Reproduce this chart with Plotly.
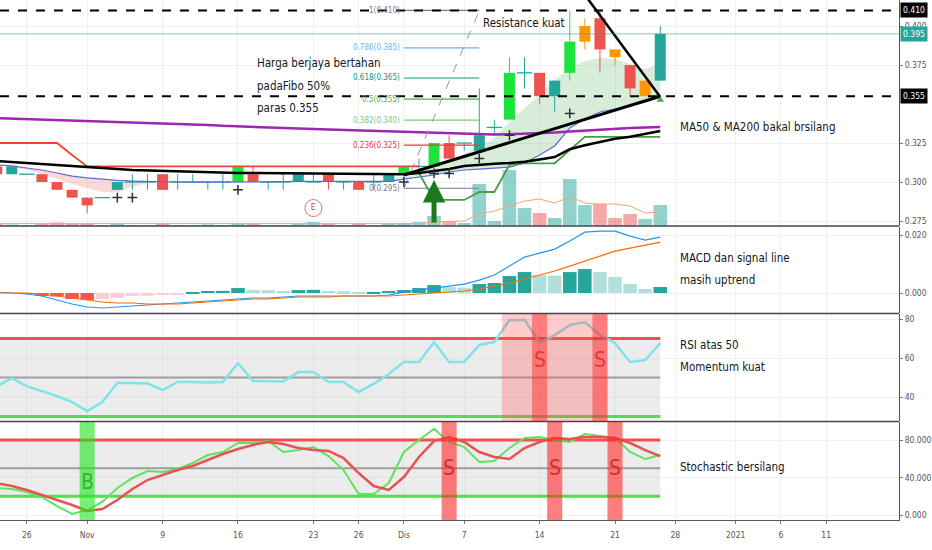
import plotly.graph_objects as go

# ---------------- data ----------------
dates = [
    "2020-10-22", "2020-10-23", "2020-10-26", "2020-10-27", "2020-10-28", "2020-10-30",
    "2020-11-02", "2020-11-03", "2020-11-04", "2020-11-05", "2020-11-06",
    "2020-11-09", "2020-11-10", "2020-11-11", "2020-11-12", "2020-11-13",
    "2020-11-16", "2020-11-17", "2020-11-18", "2020-11-19", "2020-11-20",
    "2020-11-23", "2020-11-24", "2020-11-25", "2020-11-26", "2020-11-27",
    "2020-11-30", "2020-12-01", "2020-12-02", "2020-12-03", "2020-12-04",
    "2020-12-07", "2020-12-08", "2020-12-09", "2020-12-10", "2020-12-11",
    "2020-12-14", "2020-12-15", "2020-12-16", "2020-12-17", "2020-12-18",
    "2020-12-21", "2020-12-22", "2020-12-23", "2020-12-24",
    # future (empty) days on the right
    "2020-12-28", "2020-12-29", "2020-12-30", "2020-12-31", "2021-01-01",
    "2021-01-04", "2021-01-05", "2021-01-06", "2021-01-07", "2021-01-08",
    "2021-01-11", "2021-01-12", "2021-01-13", "2021-01-14", "2021-01-15",
    "2021-01-18", "2021-01-19",
]
bar_days = dates[:45]

tick_days = ["2020-10-26", "2020-11-02", "2020-11-09", "2020-11-16", "2020-11-23", "2020-11-26",
             "2020-12-01", "2020-12-07", "2020-12-14", "2020-12-21", "2020-12-28", "2021-01-01",
             "2021-01-06", "2021-01-11"]
tick_text = ["26", "Nov", "9", "16", "23", "26", "Dis", "7", "14", "21", "28", "2021", "6", "11"]
price_ticks = [0.275, 0.300, 0.325, 0.375, 0.400]

opens = [0.310, 0.305, 0.305, 0.305, 0.300, 0.295, 0.290, 0.290, 0.295, 0.300, 0.300,
         0.305, 0.300, 0.300, 0.300, 0.300, 0.300, 0.305, 0.300, 0.300, 0.300, 0.300,
         0.305, 0.300, 0.300, 0.300, 0.300, 0.305, 0.310, 0.310, 0.325, 0.325, 0.320,
         0.335, 0.340, 0.370, 0.370, 0.355, 0.370, 0.390, 0.405, 0.385, 0.375, 0.355, 0.365]
highs = [0.310, 0.310, 0.305, 0.305, 0.300, 0.295, 0.290, 0.290, 0.300, 0.305, 0.305,
         0.305, 0.305, 0.305, 0.300, 0.305, 0.310, 0.310, 0.300, 0.305, 0.305, 0.305,
         0.305, 0.300, 0.300, 0.305, 0.305, 0.310, 0.315, 0.325, 0.330, 0.325, 0.360,
         0.340, 0.380, 0.380, 0.370, 0.365, 0.410, 0.405, 0.410, 0.385, 0.375, 0.365, 0.400]
lows = [0.305, 0.305, 0.305, 0.300, 0.295, 0.290, 0.280, 0.290, 0.295, 0.295, 0.295,
        0.295, 0.295, 0.300, 0.295, 0.295, 0.300, 0.300, 0.295, 0.295, 0.300, 0.300,
        0.295, 0.295, 0.295, 0.295, 0.300, 0.305, 0.305, 0.310, 0.315, 0.320, 0.320,
        0.330, 0.340, 0.360, 0.350, 0.345, 0.365, 0.385, 0.370, 0.375, 0.355, 0.355, 0.365]
closes = [0.305, 0.310, 0.305, 0.300, 0.295, 0.290, 0.285, 0.290, 0.300, 0.300, 0.300,
          0.295, 0.300, 0.300, 0.300, 0.300, 0.310, 0.300, 0.300, 0.300, 0.305, 0.300,
          0.300, 0.300, 0.295, 0.300, 0.305, 0.310, 0.310, 0.325, 0.315, 0.325, 0.330,
          0.335, 0.370, 0.370, 0.355, 0.365, 0.390, 0.400, 0.385, 0.380, 0.360, 0.365, 0.395]

# bars painted by the trend indicator
strong_days = ["2020-11-16", "2020-12-01", "2020-12-03", "2020-12-10", "2020-12-16"]
pause_days = ["2020-12-17", "2020-12-21", "2020-12-23"]

volume = [0.2, 0.15, 0.1, 0.2, 0.35, 0.2, 0.3, 0.1, 0.2, 0.1, 0.1,
          0.25, 0.1, 0.1, 0.15, 0.1, 0.3, 0.2, 0.1, 0.1, 0.2, 0.4,
          0.2, 0.1, 0.25, 0.1, 0.3, 0.3, 0.4, 1.0, 0.5, 0.3, 4.2,
          0.5, 5.6, 1.8, 1.3, 0.8, 4.7, 2.1, 2.2, 0.8, 1.2, 0.7, 2.1]
volume_ma = [0.25, 0.25, 0.24, 0.24, 0.25, 0.25, 0.26, 0.25, 0.24, 0.23, 0.22,
             0.22, 0.21, 0.2, 0.2, 0.2, 0.21, 0.21, 0.2, 0.2, 0.2, 0.22,
             0.22, 0.21, 0.21, 0.2, 0.21, 0.22, 0.24, 0.4, 0.45, 0.5, 1.2,
             1.5, 2.0, 2.5, 2.7, 2.3, 2.9, 2.3, 2.2, 2.2, 2.0, 1.3, 1.4]

ma50 = [0.3135, 0.3128, 0.3122, 0.3115, 0.3109, 0.3103, 0.3096, 0.3090, 0.3083, 0.3077, 0.3074,
        0.3071, 0.3067, 0.3064, 0.3064, 0.3061, 0.3058, 0.3058, 0.3057, 0.3057, 0.3056, 0.3055,
        0.3054, 0.3053, 0.3052, 0.3051, 0.3051, 0.3050, 0.3058, 0.3070, 0.3083, 0.3103, 0.3112,
        0.3117, 0.3122, 0.3130, 0.3145, 0.3160, 0.3210, 0.3236, 0.3256, 0.3278, 0.3290, 0.3310, 0.3327]
ma200 = [0.3410, 0.3407, 0.3404, 0.3401, 0.3398, 0.3395, 0.3391, 0.3388, 0.3385, 0.3382, 0.3378,
         0.3376, 0.3372, 0.3369, 0.3366, 0.3360, 0.3356, 0.3353, 0.3350, 0.3346, 0.3343, 0.3340,
         0.3337, 0.3334, 0.3330, 0.3327, 0.3324, 0.3321, 0.3318, 0.3314, 0.3311, 0.3308, 0.3305,
         0.3305, 0.3307, 0.3310, 0.3314, 0.3318, 0.3324, 0.3330, 0.3338, 0.3343, 0.3347, 0.3350, 0.3353]
ema_slow = [0.3109, 0.3103, 0.3090, 0.3077, 0.3058, 0.3038, 0.3026, 0.3016, 0.3010, 0.3006, 0.3003,
            0.3000, 0.3000, 0.2999, 0.2999, 0.3000, 0.3003, 0.3003, 0.3002, 0.3002, 0.3004, 0.3004,
            0.3004, 0.3003, 0.3001, 0.3001, 0.3004, 0.3019, 0.3032, 0.3045, 0.3064, 0.3077, 0.3083,
            0.3090, 0.3096, 0.3122, 0.3173, 0.3231, 0.3346, 0.3404, 0.3449, 0.3468, 0.3487, 0.3513, 0.3545]
ema_fast = [0.3109, 0.3096, 0.3077, 0.3051, 0.3019, 0.2987, 0.2962, 0.2936, 0.2936, 0.2968, 0.2994,
            0.2994, 0.2998, 0.2999, 0.2999, 0.3001, 0.3006, 0.3004, 0.3002, 0.3002, 0.3005, 0.3004,
            0.3004, 0.3002, 0.3000, 0.3001, 0.3013, 0.3038, 0.3071, 0.3103, 0.3135, 0.3179, 0.3224,
            0.3282, 0.3385, 0.3474, 0.3558, 0.3654, 0.3731, 0.3776, 0.3795, 0.3788, 0.3756, 0.3724, 0.3756]

trail_down = [0.325, 0.325, 0.325, 0.325, 0.325, 0.3173, 0.310, 0.310, 0.310, 0.310, 0.310,
              0.310, 0.310, 0.310, 0.310, 0.310, 0.310, 0.310, 0.310, 0.310, 0.310, 0.310,
              0.310, 0.310, 0.310, 0.310, 0.310, 0.310, 0.310] + [None] * 16
trail_up = [None] * 28 + [0.3058, 0.2885, 0.2885, 0.2885, 0.2936, 0.2936, 0.311, 0.312, 0.312,
                          0.312, 0.3205, 0.329, 0.329, 0.329, 0.329, 0.329, 0.329]

plus_days = ["2020-11-04", "2020-11-05", "2020-11-16", "2020-12-01", "2020-12-03", "2020-12-04",
             "2020-12-08", "2020-12-10", "2020-12-16"]
plus_prices = [0.290, 0.290, 0.295, 0.300, 0.3055, 0.3055, 0.315, 0.330, 0.344]

fib_days = ["2020-12-01", "2020-12-08"]
fib_levels = ["0", "0.236", "0.382", "0.5", "0.618", "0.786", "1"]
fib_prices = [0.296, 0.3237, 0.3397, 0.3532, 0.3667, 0.386, 0.410]
fib_text = ["0.295", "0.325", "0.340", "0.355", "0.365", "0.385", "0.410"]

support_days = ["2020-12-01", "2020-12-24"]
support_prices = [0.3045, 0.3550]
resist_days = ["2020-12-17", "2020-12-24"]
resist_prices = [0.420, 0.3545]
key_levels = [0.410, 0.355]
last_price = 0.395

buy_arrow_day, buy_arrow_price = "2020-12-03", 0.3013
earnings_day, earnings_price = "2020-11-23", 0.2833
tri_day, tri_price = "2020-12-24", 0.3526

macd = [0.00034, 0.0, -0.00034, -0.00103, -0.00241, -0.00379, -0.00483, -0.00517, -0.00483, -0.00448,
        -0.00414, -0.00379, -0.00345, -0.00310, -0.00276, -0.00241, -0.00207, -0.00172, -0.00172,
        -0.00138, -0.00103, -0.00103, -0.00103, -0.00103, -0.00103, -0.00103, -0.00069, 0.00034,
        0.00103, 0.00172, 0.00241, 0.00310, 0.00448, 0.00621, 0.00931, 0.01241, 0.01379, 0.01517,
        0.01793, 0.02103, 0.02138, 0.02138, 0.01966, 0.01828, 0.01931]
signal = [0.0, 0.0, 0.0, -0.00034, -0.00103, -0.00172, -0.00241, -0.00310, -0.00345, -0.00345,
          -0.00379, -0.00379, -0.00379, -0.00345, -0.00310, -0.00276, -0.00241, -0.00207, -0.00207,
          -0.00172, -0.00138, -0.00138, -0.00138, -0.00103, -0.00103, -0.00103, -0.00103, -0.00069,
          -0.00034, 0.0, 0.00034, 0.00069, 0.00138, 0.00241, 0.00345, 0.00483, 0.00621, 0.00759,
          0.00931, 0.01103, 0.01276, 0.01448, 0.01552, 0.01655, 0.01759]
hist = [0.0, 0.0, -0.00034, -0.00103, -0.0012, -0.00207, -0.00241, -0.00207, -0.00172, -0.00103,
        -0.00095, -0.00069, -0.00052, 0.00034, 0.00069, 0.00075, 0.00172, 0.00103, 0.00095, 0.00069,
        0.00103, 0.0011, 0.00069, 0.0006, 0.00017, 0.00034, 0.00069, 0.00103, 0.00172, 0.00276,
        0.00207, 0.0019, 0.0031, 0.00345, 0.00586, 0.00724, 0.00621, 0.006, 0.00724, 0.00828,
        0.00724, 0.00552, 0.0031, 0.00138, 0.00207]

rsi = [45.5, 49.7, 45.6, 43.1, 40.5, 37.4, 32.8, 37.4, 47.2, 47.2, 47.0,
       43.6, 47.7, 47.7, 47.5, 47.7, 57.4, 48.2, 48.2, 48.0, 52.8, 52.8,
       47.7, 47.7, 42.6, 46.7, 51.8, 58.0, 58.0, 68.2, 58.0, 58.0, 66.7,
       68.2, 79.5, 79.5, 68.2, 71.8, 76.9, 78.5, 71.8, 67.7, 58.0, 59.0, 67.7]
rsi_levels = [70, 50, 30]
rsi_hot_days = ["2020-12-10", "2020-12-11", "2020-12-14", "2020-12-15", "2020-12-16",
                "2020-12-17", "2020-12-18"]
rsi_sell_days = ["2020-12-14", "2020-12-18"]

stoch_k = [28.8, 27.7, 24.5, 19.2, 9.6, 1.1, 5.3, 13.9, 28.8, 39.5, 46.9,
           45.9, 49.1, 55.5, 64.0, 67.2, 76.8, 76.8, 78.9, 67.2, 69.3, 72.5,
           62.9, 48.0, 22.4, 22.4, 34.1, 67.2, 80.0, 91.7, 77.9, 72.5, 56.5,
           57.6, 71.5, 82.1, 83.2, 80.0, 77.9, 86.4, 84.3, 82.1, 67.2, 59.7, 64.0]
stoch_d = [34.1, 30.9, 26.7, 21.3, 16.0, 10.7, 4.3, 6.4, 16.0, 27.7, 37.3,
           42.7, 48.0, 52.3, 58.7, 65.1, 70.4, 74.7, 77.9, 75.7, 71.5, 69.3,
           68.3, 60.8, 44.8, 30.9, 26.7, 40.5, 61.9, 78.9, 83.2, 77.9, 67.2,
           61.9, 59.7, 71.5, 77.9, 82.1, 81.1, 83.2, 83.2, 82.1, 76.8, 69.3, 62.9]
stoch_levels = [80, 50, 20]
stoch_buy_days = ["2020-11-02"]
stoch_sell_days = ["2020-12-04", "2020-12-15", "2020-12-21"]

# ---------------- styling ----------------
TEAL = "#26a69a"
RED = "#ef5350"
LIME = "#1ee33c"
ORANGE = "#ff9800"
FONT = "DejaVu Sans Condensed, Roboto, sans-serif"
FIB_COLOURS = ["#787b86", "#f23645", "#81c784", "#4caf50", "#089981", "#64b5f6", "#787b86"]

pos = {d: k for k, d in enumerate(dates)}
xb = [pos[d] for d in bar_days]
n = len(bar_days)

fig = go.Figure()

# volume (behind everything)
vol_cols = ["rgba(38,166,154,0.5)" if c >= o else "rgba(239,83,80,0.5)" for o, c in zip(opens, closes)]
fig.add_trace(go.Bar(x=xb, y=volume, marker=dict(color=vol_cols, line_width=0), width=0.9,
                     xaxis="x", yaxis="y"))
fig.add_trace(go.Scatter(x=xb, y=volume_ma, mode="lines", line=dict(color="#f9a27a", width=1),
                         xaxis="x", yaxis="y"))

# EMA cloud
for lo, hi, col in [(0, 13, "rgba(239,83,80,0.22)"), (26, 45, "rgba(76,175,80,0.22)")]:
    fig.add_trace(go.Scatter(x=xb[lo:hi], y=ema_slow[lo:hi], mode="lines", line=dict(width=0),
                             xaxis="x", yaxis="y2"))
    fig.add_trace(go.Scatter(x=xb[lo:hi], y=ema_fast[lo:hi], mode="lines", line=dict(width=0),
                             fill="tonexty", fillcolor=col, xaxis="x", yaxis="y2"))

# candles: wick lines, thick body segments, doji ticks
groups = {"strong": [], "pause": [], "up": [], "down": []}
for k, d in enumerate(bar_days):
    if d in strong_days:
        groups["strong"].append(k)
    elif d in pause_days:
        groups["pause"].append(k)
    elif closes[k] >= opens[k]:
        groups["up"].append(k)
    else:
        groups["down"].append(k)
group_col = {"strong": LIME, "pause": ORANGE, "up": TEAL, "down": RED}
for g, idx in groups.items():
    c = group_col[g]
    wx, wy, bx, by, dx, dy = [], [], [], [], [], []
    for k in idx:
        wx += [xb[k], xb[k], None]
        wy += [lows[k], highs[k], None]
        if opens[k] == closes[k]:
            dx.append(xb[k])
            dy.append(opens[k])
        else:
            bx += [xb[k], xb[k], None]
            by += [opens[k], closes[k], None]
    fig.add_trace(go.Scatter(x=wx, y=wy, mode="lines", line=dict(color=c, width=1),
                             xaxis="x", yaxis="y2"))
    if bx:
        fig.add_trace(go.Scatter(x=bx, y=by, mode="lines", line=dict(color=c, width=11),
                                 xaxis="x", yaxis="y2"))
    if dx:
        fig.add_trace(go.Scatter(x=dx, y=dy, mode="markers",
                                 marker=dict(symbol="line-ew", size=11, line=dict(color=c, width=1.3)),
                                 xaxis="x", yaxis="y2"))

# moving averages and trailing stop
fig.add_trace(go.Scatter(x=xb, y=ema_slow, mode="lines", line=dict(color="#5c6bd6", width=1.2),
                         xaxis="x", yaxis="y2"))
fig.add_trace(go.Scatter(x=xb, y=ma200, mode="lines", line=dict(color="#9c27b0", width=2.5),
                         xaxis="x", yaxis="y2"))
fig.add_trace(go.Scatter(x=xb, y=trail_down, mode="lines", line=dict(color="#f44336", width=1.8),
                         xaxis="x", yaxis="y2"))
fig.add_trace(go.Scatter(x=xb, y=trail_up, mode="lines", line=dict(color="#43a047", width=1.8),
                         xaxis="x", yaxis="y2"))
fig.add_trace(go.Scatter(x=xb, y=ma50, mode="lines", line=dict(color="#000000", width=2.5),
                         xaxis="x", yaxis="y2"))

# fibonacci retracement
fx = [pos[d] for d in fib_days]
for lvl, p, col in zip(fib_levels, fib_prices, FIB_COLOURS):
    fig.add_trace(go.Scatter(x=fx, y=[p, p], mode="lines", line=dict(color=col, width=1.2),
                             xaxis="x", yaxis="y2"))
fig.add_trace(go.Scatter(x=fx, y=[fib_prices[0], fib_prices[-1]], mode="lines",
                         line=dict(color="#9598a1", width=1, dash="dash"), xaxis="x", yaxis="y2"))

# trend lines
fig.add_trace(go.Scatter(x=[pos[d] for d in support_days], y=support_prices, mode="lines",
                         line=dict(color="#000000", width=3), xaxis="x", yaxis="y2"))
fig.add_trace(go.Scatter(x=[pos[d] for d in resist_days], y=resist_prices, mode="lines",
                         line=dict(color="#000000", width=2.5), xaxis="x", yaxis="y2"))

# markers
fig.add_trace(go.Scatter(x=[pos[d] for d in plus_days], y=plus_prices, mode="markers",
                         marker=dict(symbol="cross-thin", size=7, line=dict(color="#2a2e39", width=1.5)),
                         xaxis="x", yaxis="y2"))
fig.add_trace(go.Scatter(x=[pos[earnings_day]], y=[earnings_price], mode="markers+text", text=["E"],
                         textposition="middle center",
                         textfont=dict(color="#e53935", size=9, family=FONT),
                         marker=dict(symbol="circle", size=17, color="white",
                                     line=dict(color="#e57373", width=1)),
                         xaxis="x", yaxis="y2"))
fig.add_trace(go.Scatter(x=[pos[tri_day]], y=[tri_price], mode="markers",
                         marker=dict(symbol="triangle-up", size=7, color="#4caf50"),
                         xaxis="x", yaxis="y2"))

# MACD
hist_cols = []
for k, h in enumerate(hist):
    prev = hist[k - 1] if k else 0
    if h >= 0:
        hist_cols.append("#26a69a" if h >= prev else "#b2dfdb")
    else:
        hist_cols.append("#ff5252" if h <= prev else "#ffcdd2")
fig.add_trace(go.Bar(x=xb, y=hist, marker=dict(color=hist_cols, line_width=0), width=0.9,
                     xaxis="x2", yaxis="y3"))
fig.add_trace(go.Scatter(x=xb, y=macd, mode="lines", line=dict(color="#2196f3", width=1.2),
                         xaxis="x2", yaxis="y3"))
fig.add_trace(go.Scatter(x=xb, y=signal, mode="lines", line=dict(color="#ff6d00", width=1.2),
                         xaxis="x2", yaxis="y3"))

# RSI / Stochastic bands
def bands(levels, xa, ya):
    hi, mid, lo = levels
    fig.add_trace(go.Scatter(x=xb, y=[lo] * n, mode="lines", line=dict(width=0), xaxis=xa, yaxis=ya))
    fig.add_trace(go.Scatter(x=xb, y=[hi] * n, mode="lines", line=dict(width=0), fill="tonexty",
                             fillcolor="rgba(200,200,200,0.35)", xaxis=xa, yaxis=ya))
    fig.add_trace(go.Scatter(x=xb, y=[hi] * n, mode="lines", line=dict(color="#f44f4f", width=3),
                             xaxis=xa, yaxis=ya))
    fig.add_trace(go.Scatter(x=xb, y=[mid] * n, mode="lines", line=dict(color="#9e9e9e", width=2),
                             xaxis=xa, yaxis=ya))
    fig.add_trace(go.Scatter(x=xb, y=[lo] * n, mode="lines", line=dict(color="#4ee04e", width=3),
                             xaxis=xa, yaxis=ya))

bands(rsi_levels, "x3", "y4")
fig.add_trace(go.Scatter(x=xb, y=rsi, mode="lines", line=dict(color="#7fe3e8", width=2.5),
                         xaxis="x3", yaxis="y4"))
bands(stoch_levels, "x4", "y5")
fig.add_trace(go.Scatter(x=xb, y=stoch_k, mode="lines", line=dict(color="#5fe35f", width=2),
                         xaxis="x4", yaxis="y5"))
fig.add_trace(go.Scatter(x=xb, y=stoch_d, mode="lines", line=dict(color="#e55353", width=2.5),
                         xaxis="x4", yaxis="y5"))

# ---------------- layout ----------------
H = 520.0
def dom(top_px, bot_px):
    return [1 - bot_px / H, 1 - top_px / H]

tickvals = [pos[d] for d in tick_days]
grid = "#eef0f4"
xcommon = dict(range=[0.22, 59.83], tickvals=tickvals, ticktext=tick_text, showgrid=True,
               gridcolor=grid, zeroline=False, showticklabels=False, fixedrange=True)
ycommon = dict(side="right", showgrid=True, gridcolor=grid, zeroline=False, ticks="outside",
               ticklen=3, tickcolor="#777", showline=True, linecolor="#555", linewidth=1,
               tickfont=dict(size=8.5, color="#555", family=FONT))

shapes = []
for lv in key_levels:
    shapes.append(dict(type="line", xref="x domain", yref="y2", x0=0, x1=1, y0=lv, y1=lv,
                       line=dict(color="#000", width=2, dash="dash")))
shapes.append(dict(type="line", xref="x domain", yref="y2", x0=0, x1=1, y0=last_price, y1=last_price,
                   line=dict(color="rgba(38,166,154,0.6)", width=1)))
for d in rsi_hot_days:
    shapes.append(dict(type="rect", xref="x3", yref="y4 domain", x0=pos[d] - 0.5, x1=pos[d] + 0.5,
                       y0=0, y1=1, fillcolor="rgba(255,82,82,0.3)", line_width=0, layer="above"))
for d in rsi_sell_days:
    shapes.append(dict(type="rect", xref="x3", yref="y4 domain", x0=pos[d] - 0.5, x1=pos[d] + 0.5,
                       y0=0, y1=1, fillcolor="rgba(255,30,30,0.45)", line_width=0, layer="above"))
for d in stoch_buy_days:
    shapes.append(dict(type="rect", xref="x4", yref="y5 domain", x0=pos[d] - 0.5, x1=pos[d] + 0.5,
                       y0=0, y1=1, fillcolor="rgba(30,230,30,0.6)", line_width=0, layer="above"))
for d in stoch_sell_days:
    shapes.append(dict(type="rect", xref="x4", yref="y5 domain", x0=pos[d] - 0.5, x1=pos[d] + 0.5,
                       y0=0, y1=1, fillcolor="rgba(255,40,40,0.6)", line_width=0, layer="above"))
for py in [226, 313.5, 421.5]:
    shapes.append(dict(type="line", xref="paper", yref="paper", x0=0, x1=1, y0=1 - py / H, y1=1 - py / H,
                       line=dict(color="#434651", width=1.5)))

ann = []
def note(text, px, py, size=11.5, color="#131722"):
    ann.append(dict(text=text, xref="paper", yref="paper", x=px / 906.0, y=1 - py / H,
                    xanchor="left", yanchor="middle", showarrow=False,
                    font=dict(size=size, color=color, family=FONT)))

note("Harga berjaya bertahan", 257, 63)
note("padaFibo 50%", 257, 86)
note("paras 0.355", 257, 108)
note("Resistance kuat", 485, 23)
note("MA50 & MA200 bakal brsilang", 683, 127)
note("MACD dan signal line", 683, 258)
note("masih uptrend", 683, 280)
note("RSI atas 50", 683, 345)
note("Momentum kuat", 683, 367)
note("Stochastic bersilang", 683, 467)

for lvl, p, col, t in zip(fib_levels, fib_prices, FIB_COLOURS, fib_text):
    ann.append(dict(text=f"{lvl}({t})", x=fx[0], y=p, xref="x", yref="y2", xanchor="right",
                    yanchor="middle", xshift=-2, showarrow=False,
                    font=dict(size=8, color=col, family=FONT)))

ann.append(dict(x=pos[buy_arrow_day], y=buy_arrow_price, xref="x", yref="y2", ax=0, ay=44,
                showarrow=True, arrowhead=2, arrowsize=0.9, arrowwidth=5, arrowcolor="#1b7a1b",
                text="", standoff=0))

for d in rsi_sell_days:
    ann.append(dict(text="S", x=pos[d], y=59, xref="x3", yref="y4", showarrow=False,
                    font=dict(size=21, color="#e53935", family=FONT)))
for d in stoch_sell_days:
    ann.append(dict(text="S", x=pos[d], y=50, xref="x4", yref="y5", showarrow=False,
                    font=dict(size=21, color="#d32f2f", family=FONT)))
for d in stoch_buy_days:
    ann.append(dict(text="B", x=pos[d], y=35, xref="x4", yref="y5", showarrow=False,
                    font=dict(size=21, color="#2eb82e", family=FONT)))

for v, bg in [(0.410, "#000000"), (0.395, TEAL), (0.355, "#000000")]:
    ann.append(dict(text=f"{v:.3f}", x=1, y=v, xref="paper", yref="y2", xanchor="left",
                    yanchor="middle", xshift=1, showarrow=False, bgcolor=bg, borderpad=2,
                    font=dict(size=8.5, color="white", family=FONT)))

fig.update_layout(
    width=932, height=550, margin=dict(l=0, r=26, t=0, b=30),
    paper_bgcolor="white", plot_bgcolor="white", showlegend=False, barmode="overlay",
    xaxis=dict(xcommon, anchor="y"),
    xaxis2=dict(xcommon, anchor="y3", matches="x"),
    xaxis3=dict(xcommon, anchor="y4", matches="x"),
    xaxis4=dict(xcommon, anchor="y5", matches="x", showticklabels=True, ticks="outside", ticklen=3,
                tickcolor="#777", showline=True, linecolor="#555", ticklabelstandoff=4,
                tickfont=dict(size=8.5, color="#555", family=FONT)),
    yaxis=dict(domain=dom(0, 226), range=[0, 22.6], visible=False, fixedrange=True),
    yaxis2=dict(ycommon, overlaying="y", anchor="x", range=[0.2718, 0.4167],
                tickvals=price_ticks, tickformat=".3f"),
    yaxis3=dict(ycommon, domain=dom(227, 313), anchor="x2", range=[-0.0069, 0.0228], dtick=0.02,
                tickformat=".3f"),
    yaxis4=dict(ycommon, domain=dom(314, 421), anchor="x3", range=[27.7, 82.6], dtick=20),
    yaxis5=dict(ycommon, domain=dom(422, 520), anchor="x4", range=[-5.3, 99.2], dtick=40,
                tickformat=".3f"),
    shapes=shapes, annotations=ann,
)

fig.write_html("out.html", config={"displayModeBar": False},
               post_script="document.body.style.margin='0';document.body.style.padding='0';")
